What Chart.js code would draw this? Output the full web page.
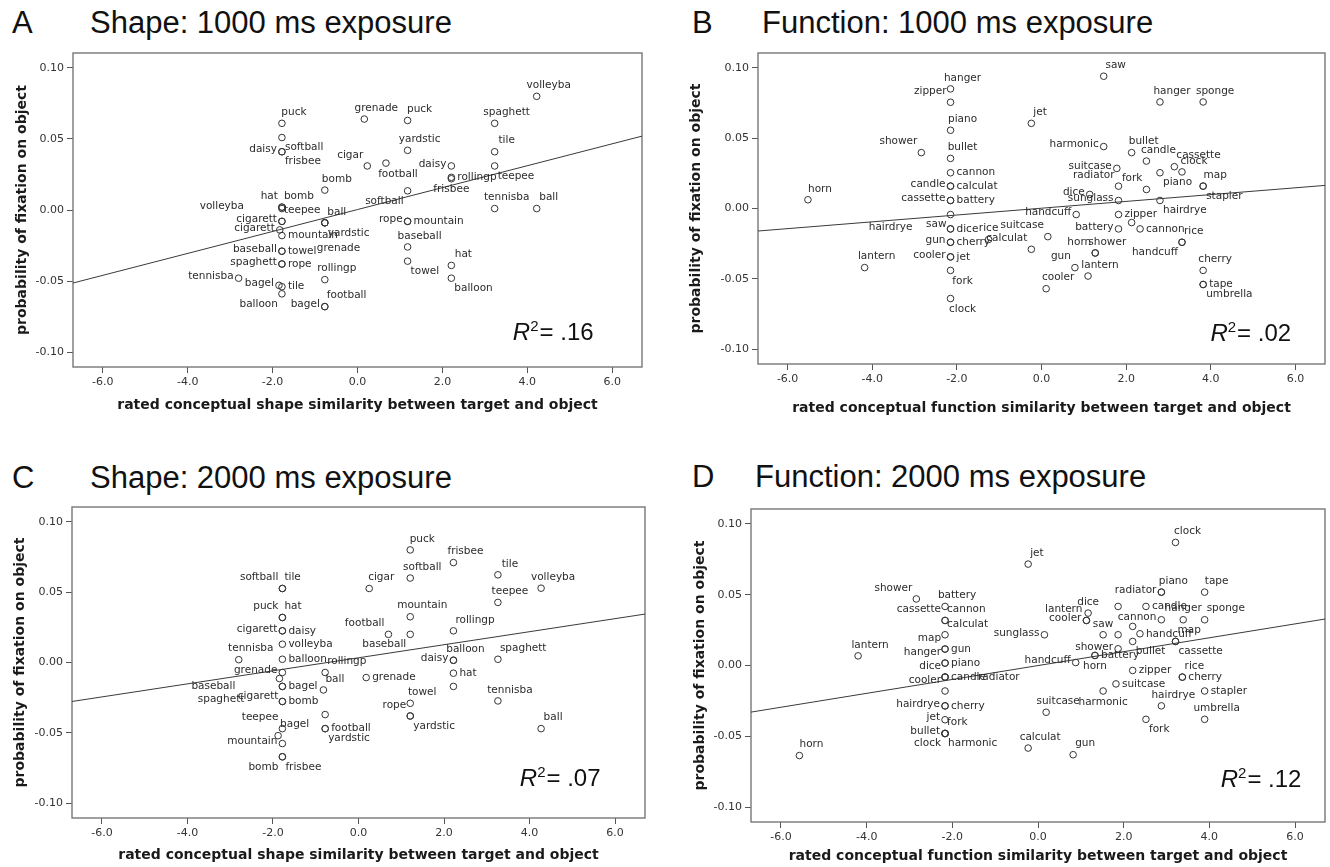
<!DOCTYPE html>
<html>
<head>
<meta charset="utf-8">
<script src="https://cdn.jsdelivr.net/npm/chart.js@4.4.1/dist/chart.umd.min.js"></script>
<style>
body { margin: 0; background: #fff; width: 1330px; height: 867px; position: relative; overflow: hidden; }
canvas { position: absolute; }
.head { position: absolute; font-family: "Liberation Sans", Arial, sans-serif; font-size: 31px; line-height: 1; color: #111; white-space: nowrap; }
</style>
</head>
<body>
<div class="head" style="left:12px;top:7px">A</div>
<div class="head" style="left:90px;top:7px">Shape: 1000 ms exposure</div>
<div class="head" style="left:692px;top:7px">B</div>
<div class="head" style="left:762px;top:7px">Function: 1000 ms exposure</div>
<div class="head" style="left:12px;top:462px">C</div>
<div class="head" style="left:90px;top:462px">Shape: 2000 ms exposure</div>
<div class="head" style="left:692px;top:461px">D</div>
<div class="head" style="left:755px;top:461px">Function: 2000 ms exposure</div>

<canvas id="cA" width="665" height="395" style="left:0;top:40px"></canvas>
<canvas id="cB" width="644" height="395" style="left:686px;top:40px"></canvas>
<canvas id="cC" width="665" height="373" style="left:0;top:494px"></canvas>
<canvas id="cD" width="650" height="371" style="left:680px;top:496px"></canvas>

<script>
"use strict";

// axis ticks shared by all four panels
const xTicks = [-6, -4, -2, 0, 2, 4, 6];
const yTicks = [-0.10, -0.05, 0.00, 0.05, 0.10];
const X_MIN = -6.7, X_MAX = 6.7, Y_MIN = -0.1105, Y_MAX = 0.1105;

const yTitle = "probability of fixation on object";
const shapeTitle = "rated conceptual shape similarity between target and object";
const funcTitle = "rated conceptual function similarity between target and object";

// panel A: shape, 1000 ms
const aNames = ["puck", "softball", "daisy", "frisbee", "bomb", "hat", "bomb", "volleyba", "teepee", "ball",
    "cigarett", "cigarett", "mountain", "yardstic", "baseball", "towel", "grenade", "spaghett", "rope", "rollingp",
    "tennisba", "bagel", "tile", "balloon", "bagel", "football", "grenade", "puck", "yardstic", "cigar",
    "football", "daisy", "rollingp", "teepee", "tile", "spaghett", "volleyba", "softball", "frisbee", "tennisba",
    "ball", "rope", "mountain", "baseball", "towel", "hat", "balloon"];
const aX = [-1.78, -1.78, -1.78, -1.78, -0.77, -1.78, -1.78, -1.78, -1.78, -0.77,
    -1.78, -1.83, -1.78, -0.77, -1.78, -1.78, -0.77, -1.78, -1.78, -0.77,
    -2.8, -1.85, -1.78, -1.78, -0.77, -0.77, 0.16, 1.18, 1.18, 0.23,
    0.67, 2.21, 2.21, 3.23, 3.23, 3.23, 4.22, 1.18, 2.21, 3.23,
    4.22, 1.18, 1.18, 1.18, 1.18, 2.21, 2.21];
const aY = [0.061, 0.051, 0.041, 0.041, 0.014, 0.002, 0.002, 0.001, -0.008, -0.009,
    -0.008, -0.014, -0.018, -0.009, -0.029, -0.029, -0.009, -0.038, -0.038, -0.049,
    -0.048, -0.053, -0.054, -0.059, -0.068, -0.068, 0.064, 0.063, 0.042, 0.031,
    0.033, 0.031, 0.023, 0.031, 0.041, 0.061, 0.080, 0.0135, 0.022, 0.001,
    0.001, -0.008, -0.008, -0.026, -0.036, -0.039, -0.048];
const aPos = ["a", "br", "l", "br", "a", "al", "ar", "ll", "ar", "a",
    "l", "l", "r", "br", "l", "r", "bb", "l", "r", "a",
    "l", "l", "r", "bl", "l", "ar", "a", "a", "a", "al",
    "b", "l", "r", "br", "a", "a", "a", "bl", "bc", "a",
    "a", "l", "r", "a", "br", "a", "br"];
const aFit = [-0.0514, 0.0520];

// panel B: function, 1000 ms
const bNames = ["hanger", "zipper", "piano", "shower", "bullet", "cannon", "calculat", "candle", "battery", "cassette",
    "saw", "hairdrye", "dice", "rice", "cherry", "gun", "jet", "cooler", "fork", "clock",
    "horn", "lantern", "calculat", "suitcase", "saw", "hanger", "sponge", "jet", "harmonic", "bullet",
    "candle", "cassette", "clock", "suitcase", "piano", "radiator", "fork", "dice", "map", "stapler",
    "sunglass", "hairdrye", "handcuff", "zipper", "battery", "", "cannon", "handcuff", "rice", "shower",
    "horn", "gun", "lantern", "cooler", "cherry", "tape", "umbrella"];
const bX = [-2.15, -2.15, -2.15, -2.84, -2.15, -2.15, -2.15, -2.15, -2.15, -2.15,
    -2.15, -2.15, -2.15, -1.25, -2.15, -2.15, -2.15, -2.15, -2.15, -2.15,
    -5.52, -4.18, -0.24, 0.15, 1.47, 2.80, 3.82, -0.24, 1.47, 2.13,
    2.48, 3.14, 3.32, 1.78, 2.80, 1.82, 2.48, 1.14, 3.82, 3.82,
    1.82, 2.80, 0.82, 1.82, 1.82, 2.13, 2.33, 3.32, 3.32, 1.27,
    1.27, 0.79, 1.10, 0.11, 3.82, 3.82, 3.82];
const bY = [0.085, 0.0755, 0.0556, 0.0397, 0.0356, 0.0254, 0.0159, 0.0159, 0.0057, 0.0057,
    -0.0043, -0.0145, -0.0145, -0.022, -0.024, -0.024, -0.0344, -0.0344, -0.044, -0.064,
    0.0062, -0.042, -0.029, -0.020, 0.094, 0.0757, 0.0757, 0.0605, 0.044, 0.0397,
    0.0337, 0.0297, 0.026, 0.0285, 0.0254, 0.0159, 0.0135, 0.010, 0.0159, 0.0159,
    0.0057, 0.0057, -0.0043, -0.0043, -0.0145, -0.010, -0.0145, -0.024, -0.024, -0.0316,
    -0.0316, -0.042, -0.048, -0.057, -0.044, -0.054, -0.054];
const bPos = ["a", "al", "a", "al", "a", "r", "r", "l", "r", "l",
    "bl", "ll", "r", "ac", "r", "l", "r", "l", "b", "b",
    "a", "a", "al", "al", "a", "a", "a", "ar", "l", "a",
    "a", "ar", "a", "l", "br", "al", "al", "l", "a", "br",
    "l", "br", "l", "r", "l", "", "r", "bl", "ar", "a",
    "al", "al", "a", "a", "a", "r", "br"];
const bFit = [-0.0160, 0.0164];

// panel C: shape, 2000 ms
const cNames = ["softball", "tile", "puck", "hat", "cigarett", "daisy", "volleyba", "tennisba", "balloon", "grenade",
    "baseball", "bagel", "cigarett", "bomb", "spaghett", "teepee", "bagel", "mountain", "bomb", "frisbee",
    "rollingp", "ball", "", "football", "yardstic", "puck", "frisbee", "softball", "cigar", "tile",
    "volleyba", "teepee", "mountain", "football", "baseball", "rollingp", "balloon", "daisy", "hat", "",
    "tennisba", "spaghett", "grenade", "towel", "rope", "yardstic", "ball"];
const cX = [-1.78, -1.78, -1.78, -1.78, -1.78, -1.78, -1.78, -2.80, -1.78, -1.78,
    -1.85, -1.78, -1.78, -1.78, -1.78, -1.78, -1.88, -1.78, -1.78, -1.78,
    -0.78, -0.82, -0.78, -0.78, -0.78, 1.21, 2.22, 1.21, 0.25, 3.26,
    4.27, 3.26, 1.21, 0.70, 1.21, 2.22, 2.22, 2.22, 2.22, 2.22,
    3.26, 3.26, 0.18, 1.21, 1.21, 1.21, 4.27];
const cY = [0.0526, 0.0526, 0.032, 0.032, 0.0225, 0.0225, 0.013, 0.002, 0.0023, -0.0071,
    -0.0114, -0.017, -0.017, -0.0277, -0.0277, -0.047, -0.052, -0.0576, -0.067, -0.067,
    -0.0071, -0.0195, -0.037, -0.047, -0.047, 0.080, 0.071, 0.060, 0.0526, 0.0623,
    0.0528, 0.0427, 0.0325, 0.020, 0.020, 0.0225, 0.0016, 0.0016, -0.0076, -0.017,
    -0.0273, 0.0023, -0.0107, -0.029, -0.038, -0.038, -0.047];
const cPos = ["al", "ar", "al", "ar", "l", "r", "r", "a", "r", "l",
    "lb", "r", "bl", "r", "ll", "al", "ar", "l", "bl", "br",
    "ar", "ar", "", "r", "br", "a", "a", "a", "a", "a",
    "a", "a", "a", "al", "bl", "ar", "a", "l", "r", "",
    "a", "ar", "r", "a", "al", "br", "a"];
const cFit = [-0.0277, 0.0344];

// panel D: function, 2000 ms
const dNames = ["shower", "battery", "cannon", "cassette", "calculat", "map", "gun", "hanger", "piano", "dice",
    "candle", "radiator", "cooler", "hairdrye", "cherry", "jet", "bullet", "fork", "harmonic", "clock",
    "lantern", "horn", "clock", "jet", "piano", "radiator", "tape", "", "dice", "candle",
    "lantern", "cooler", "cannon", "hanger", "sponge", "saw", "", "", "handcuff", "bullet",
    "shower", "map", "cassette", "sunglass", "battery", "horn", "handcuff", "zipper", "harmonic", "rice",
    "cherry", "suitcase", "stapler", "hairdrye", "suitcase", "umbrella", "fork", "calculat", "gun"];
const dX = [-2.84, -2.17, -2.17, -2.17, -2.17, -2.17, -2.17, -2.17, -2.17, -2.17,
    -2.17, -2.17, -2.17, -2.17, -2.17, -2.17, -2.17, -2.17, -2.17, -2.17,
    -4.20, -5.57, 3.21, -0.23, 2.88, 2.88, 3.89, 1.87, 1.17, 2.52,
    1.13, 1.13, 2.88, 3.39, 3.89, 1.52, 1.87, 2.21, 2.38, 2.21,
    1.87, 3.21, 3.21, 0.15, 1.33, 1.33, 0.88, 2.21, 1.52, 3.37,
    3.37, 1.82, 3.89, 2.88, 0.19, 3.89, 2.52, -0.23, 0.82];
const dY = [0.047, 0.0417, 0.0318, 0.0318, 0.0217, 0.0116, 0.0116, 0.0017, 0.0017, -0.0082,
    -0.0082, -0.0082, -0.018, -0.0285, -0.0285, -0.0383, -0.048, -0.048, -0.048, -0.048,
    0.0068, -0.0636, 0.0869, 0.0716, 0.0518, 0.0518, 0.0518, 0.0417, 0.037, 0.0417,
    0.0318, 0.0318, 0.0323, 0.0323, 0.0323, 0.0217, 0.0217, 0.0276, 0.0224, 0.017,
    0.0118, 0.017, 0.017, 0.0217, 0.0071, 0.0071, 0.0021, -0.0035, -0.018, -0.0082,
    -0.0082, -0.013, -0.018, -0.0285, -0.033, -0.038, -0.038, -0.0583, -0.063];
const dPos = ["al", "a", "ar", "al", "ar", "al", "r", "al", "r", "al",
    "r", "rr", "al", "l", "r", "l", "l", "ar", "br", "bl",
    "a", "a", "a", "ar", "a", "l", "a", "", "ac", "r",
    "al", "l", "l", "ac", "ar", "ac", "", "", "r", "br",
    "l", "ar", "br", "l", "r", "bc", "l", "r", "bc", "a",
    "r", "r", "r", "a", "a", "a", "br", "a", "a"];
const dFit = [-0.0329, 0.0328];

// R squared of each fit, with where the text sits (data units, right end / middle)
const r2Values = [".16", ".02", ".07", ".12"];
const r2Spots = [[5.56, -0.0855], [5.9, -0.0883], [5.66, -0.0815], [6.15, -0.080]];

// where a label goes relative to its point
function placeLabel(code, x, y) {
    switch (code) {
        case "a": return [x + 12, y - 11, "center"];
        case "ac": return [x, y - 11, "center"];
        case "ar": return [x + 2, y - 11, "left"];
        case "al": return [x - 4, y - 11, "right"];
        case "r": return [x + 6, y, "left"];
        case "rr": return [x + 33, y, "left"];
        case "l": return [x - 5, y - 2, "right"];
        case "ll": return [x - 38, y - 2, "right"];
        case "lb": return [x - 44, y + 8, "right"];
        case "b": return [x + 12, y + 11, "center"];
        case "bc": return [x, y + 11, "center"];
        case "br": return [x + 3, y + 10, "left"];
        case "bl": return [x - 4, y + 10, "right"];
        case "bb": return [x - 8, y + 25, "left"];
    }
    return null;
}

const framePlugin = {
    id: "frame",
    beforeDatasetsDraw(chart) {
        const a = chart.chartArea, ctx = chart.ctx;
        ctx.save();
        ctx.strokeStyle = "#777";
        ctx.lineWidth = 1.4;
        ctx.strokeRect(a.left, a.top, a.right - a.left, a.bottom - a.top);
        ctx.restore();
    }
};

const namesPlugin = {
    id: "names",
    afterDatasetsDraw(chart, args, opts) {
        const ctx = chart.ctx;
        const meta = chart.getDatasetMeta(1);
        ctx.save();
        ctx.font = "10.5px 'DejaVu Sans'";
        ctx.fillStyle = "#2b2b2b";
        ctx.textBaseline = "middle";
        meta.data.forEach((pt, i) => {
            const name = opts.names[i];
            if (!name) return;
            const p = placeLabel(opts.pos[i], pt.x, pt.y);
            if (!p) return;
            ctx.textAlign = p[2];
            ctx.fillText(name, p[0], p[1]);
        });

        // R squared
        const xs = chart.scales.x, ys = chart.scales.y;
        const right = xs.getPixelForValue(opts.r2Spot[0]);
        const base = ys.getPixelForValue(opts.r2Spot[1]) + 8.5;
        ctx.fillStyle = "#111";
        ctx.textBaseline = "alphabetic";
        ctx.textAlign = "left";
        ctx.font = "24px 'Liberation Sans'";
        const tail = "= " + opts.r2;
        const wTail = ctx.measureText(tail).width;
        ctx.font = "15px 'Liberation Sans'";
        const wSup = ctx.measureText("2").width;
        ctx.font = "italic 24px 'Liberation Sans'";
        const wR = ctx.measureText("R").width;
        let x0 = right - wTail - wSup - 1 - wR;
        ctx.fillText("R", x0, base);
        ctx.font = "15px 'Liberation Sans'";
        ctx.fillText("2", x0 + wR, base - 9);
        ctx.font = "24px 'Liberation Sans'";
        ctx.fillText(tail, x0 + wR + wSup + 1, base);
        ctx.restore();
    }
};

function makePanel(id, names, xs, ys, pos, fit, k, xTitle, box) {
    const points = xs.map((x, i) => ({x: x, y: ys[i]}));
    return new Chart(document.getElementById(id), {
        type: "scatter",
        data: {
            datasets: [{
                type: "line",
                data: [{x: X_MIN, y: fit[0]}, {x: X_MAX, y: fit[1]}],
                borderColor: "#3a3a3a",
                borderWidth: 1,
                pointRadius: 0,
                fill: false
            }, {
                data: points,
                pointRadius: 3.3,
                pointBorderWidth: 1,
                borderColor: "#333",
                backgroundColor: "rgba(0,0,0,0)"
            }]
        },
        options: {
            responsive: false,
            animation: false,
            devicePixelRatio: 1,
            layout: {padding: {top: 13, right: box.padR, left: 0, bottom: 0}},
            plugins: {
                legend: {display: false},
                tooltip: {enabled: false},
                names: {names: names, pos: pos, r2: r2Values[k], r2Spot: r2Spots[k]}
            },
            scales: {
                x: {
                    type: "linear",
                    min: X_MIN,
                    max: X_MAX,
                    afterBuildTicks: s => { s.ticks = xTicks.map(v => ({value: v})); },
                    afterFit: s => { s.height = box.xH; },
                    ticks: {
                        autoSkip: false, maxRotation: 0, padding: 3,
                        color: "#333", font: {family: "DejaVu Sans", size: 11},
                        callback: v => v.toFixed(1)
                    },
                    grid: {drawOnChartArea: false, drawTicks: true, tickLength: 6, color: "#555"},
                    border: {display: false},
                    title: {
                        display: true, text: xTitle, color: "#1a1a1a",
                        font: {family: "DejaVu Sans", size: 14, weight: "bold"},
                        padding: {top: 0, bottom: box.xTitlePad}
                    }
                },
                y: {
                    type: "linear",
                    min: Y_MIN,
                    max: Y_MAX,
                    afterBuildTicks: s => { s.ticks = yTicks.map(v => ({value: v})); },
                    afterFit: s => { s.width = box.yW; },
                    ticks: {
                        autoSkip: false, padding: 3,
                        color: "#333", font: {family: "DejaVu Sans", size: 11},
                        callback: v => v.toFixed(2)
                    },
                    grid: {drawOnChartArea: false, drawTicks: true, tickLength: 6, color: "#555"},
                    border: {display: false},
                    title: {
                        display: true, text: yTitle, color: "#1a1a1a",
                        font: {family: "DejaVu Sans", size: 14, weight: "bold"},
                        padding: {top: box.yTitlePad, bottom: 0}
                    }
                }
            }
        },
        plugins: [framePlugin, namesPlugin]
    });
}

makePanel("cA", aNames, aX, aY, aPos, aFit, 0, shapeTitle, {padR: 23, yW: 73, xH: 68, yTitlePad: 13.6, xTitlePad: 21.6});
makePanel("cB", bNames, bX, bY, bPos, bFit, 1, funcTitle, {padR: 4, yW: 72, xH: 71, yTitlePad: 2, xTitlePad: 18.6});
makePanel("cC", cNames, cX, cY, cPos, cFit, 2, shapeTitle, {padR: 20, yW: 72, xH: 49, yTitlePad: 11.6, xTitlePad: 3.6});
makePanel("cD", dNames, dX, dY, dPos, dFit, 3, funcTitle, {padR: 2, yW: 71, xH: 45, yTitlePad: 11.6, xTitlePad: 2});
</script>
</body>
</html>
